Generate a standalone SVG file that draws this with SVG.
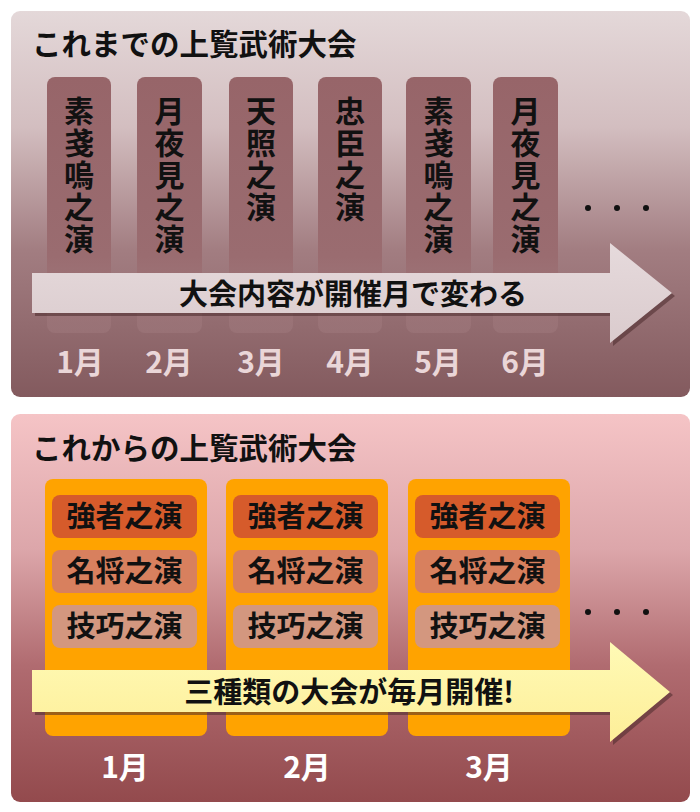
<svg xmlns="http://www.w3.org/2000/svg" width="700" height="812" viewBox="0 0 700 812">
<defs>
<linearGradient id="bgTop" x1="0" y1="0" x2="0" y2="1">
<stop offset="0" stop-color="#e4d8d9"/>
<stop offset="0.3" stop-color="#d3bec0"/>
<stop offset="0.62" stop-color="#a27d81"/>
<stop offset="1" stop-color="#835a5e"/>
</linearGradient>
<linearGradient id="bgBot" x1="0" y1="0" x2="0" y2="1">
<stop offset="0" stop-color="#f5c4c6"/>
<stop offset="0.35" stop-color="#dca6aa"/>
<stop offset="0.65" stop-color="#b06b70"/>
<stop offset="1" stop-color="#934a4d"/>
</linearGradient>
<linearGradient id="colG" x1="0" y1="0" x2="0" y2="1">
<stop offset="0" stop-color="#976569"/>
<stop offset="0.7" stop-color="#9a6c70"/>
<stop offset="1" stop-color="#a07a7e" stop-opacity="0.5"/>
</linearGradient>
<linearGradient id="arrTop" x1="0" y1="0" x2="0" y2="1">
<stop offset="0" stop-color="#e6dadc"/>
<stop offset="1" stop-color="#dacbcd"/>
</linearGradient>
<linearGradient id="arrBot" x1="0" y1="0" x2="0" y2="1">
<stop offset="0" stop-color="#fffab6"/>
<stop offset="1" stop-color="#fdee98"/>
</linearGradient>
</defs>
<style>
text{font-family:"Noto Sans CJK JP","Noto Sans",sans-serif;font-weight:bold}
.title{font-size:29.5px;fill:#111}
.vt{font-size:30px;fill:#111;text-anchor:middle}
.mt{font-size:30px;fill:#ead6d8;text-anchor:middle}
.mb{font-size:30px;fill:#ffffff;text-anchor:middle}
.bt{font-size:29px;fill:#111;text-anchor:middle}
.it{font-size:29px;fill:#111;text-anchor:middle}
.col{fill:url(#colG)}
.oc{fill:#ffa300}
.r1{fill:#d65b2b}
.r2{fill:#d8805e}
.r3{fill:#d3977f}
.shadow{fill:#4a2a2c;opacity:0.55}
.dot{fill:#111}
</style>

<g id="panel-past">
<rect x="11" y="11" width="679" height="386" rx="9" fill="url(#bgTop)"/>
<text class="title" x="32" y="55">これまでの上覧武術大会</text>
</g>

<g id="col-past-1">
<rect class="col" x="47" y="77" width="64" height="256" rx="8"/>
<text class="vt" x="79" y="122">素</text><text class="vt" x="79" y="154">戔</text><text class="vt" x="79" y="186">嗚</text><text class="vt" x="79" y="218">之</text><text class="vt" x="79" y="250">演</text>
</g>
<g id="col-past-2">
<rect class="col" x="137" y="77" width="65" height="256" rx="8"/>
<text class="vt" x="169.5" y="122">月</text><text class="vt" x="169.5" y="154">夜</text><text class="vt" x="169.5" y="186">見</text><text class="vt" x="169.5" y="218">之</text><text class="vt" x="169.5" y="250">演</text>
</g>
<g id="col-past-3">
<rect class="col" x="229" y="77" width="64" height="256" rx="8"/>
<text class="vt" x="261" y="122">天</text><text class="vt" x="261" y="154">照</text><text class="vt" x="261" y="186">之</text><text class="vt" x="261" y="218">演</text>
</g>
<g id="col-past-4">
<rect class="col" x="318" y="77" width="64" height="256" rx="8"/>
<text class="vt" x="350" y="122">忠</text><text class="vt" x="350" y="154">臣</text><text class="vt" x="350" y="186">之</text><text class="vt" x="350" y="218">演</text>
</g>
<g id="col-past-5">
<rect class="col" x="406" y="77" width="65" height="256" rx="8"/>
<text class="vt" x="438.5" y="122">素</text><text class="vt" x="438.5" y="154">戔</text><text class="vt" x="438.5" y="186">嗚</text><text class="vt" x="438.5" y="218">之</text><text class="vt" x="438.5" y="250">演</text>
</g>
<g id="col-past-6">
<rect class="col" x="493" y="77" width="65" height="256" rx="8"/>
<text class="vt" x="525.5" y="122">月</text><text class="vt" x="525.5" y="154">夜</text><text class="vt" x="525.5" y="186">見</text><text class="vt" x="525.5" y="218">之</text><text class="vt" x="525.5" y="250">演</text>
</g>

<g id="dots-past">
<circle class="dot" cx="588" cy="208" r="3"/><circle class="dot" cx="617" cy="208" r="3"/><circle class="dot" cx="646" cy="208" r="3"/>
</g>

<g id="arrow-past">
<polygon class="shadow" points="35,276 613,276 613,246 675,296 613,346 613,316 35,316"/>
<polygon fill="url(#arrTop)" points="32,273 610,273 610,243 672,293 610,343 610,313 32,313"/>
<text class="bt" x="353" y="305">大会内容が開催月で変わる</text>
</g>

<g id="months-past">
<text class="mt" x="80" y="373">1月</text>
<text class="mt" x="169" y="373">2月</text>
<text class="mt" x="261" y="373">3月</text>
<text class="mt" x="350" y="373">4月</text>
<text class="mt" x="438" y="373">5月</text>
<text class="mt" x="525" y="373">6月</text>
</g>

<g id="panel-future">
<rect x="11" y="414" width="679" height="388" rx="9" fill="url(#bgBot)"/>
<text class="title" x="32" y="459">これからの上覧武術大会</text>
</g>

<g id="col-future-1">
<rect class="oc" x="45" y="479" width="162" height="257" rx="8"/>
<rect class="r1" x="52" y="495" width="145" height="43" rx="8"/>
<rect class="r2" x="52" y="550" width="145" height="43" rx="8"/>
<rect class="r3" x="52" y="605" width="145" height="43" rx="8"/>
<text class="it" x="124.5" y="527">強者之演</text>
<text class="it" x="124.5" y="582">名将之演</text>
<text class="it" x="124.5" y="637">技巧之演</text>
</g>
<g id="col-future-2">
<rect class="oc" x="226" y="479" width="162" height="257" rx="8"/>
<rect class="r1" x="233" y="495" width="145" height="43" rx="8"/>
<rect class="r2" x="233" y="550" width="145" height="43" rx="8"/>
<rect class="r3" x="233" y="605" width="145" height="43" rx="8"/>
<text class="it" x="305.5" y="527">強者之演</text>
<text class="it" x="305.5" y="582">名将之演</text>
<text class="it" x="305.5" y="637">技巧之演</text>
</g>
<g id="col-future-3">
<rect class="oc" x="408" y="479" width="162" height="257" rx="8"/>
<rect class="r1" x="415" y="495" width="145" height="43" rx="8"/>
<rect class="r2" x="415" y="550" width="145" height="43" rx="8"/>
<rect class="r3" x="415" y="605" width="145" height="43" rx="8"/>
<text class="it" x="487.5" y="527">強者之演</text>
<text class="it" x="487.5" y="582">名将之演</text>
<text class="it" x="487.5" y="637">技巧之演</text>
</g>

<g id="dots-future">
<circle class="dot" cx="588" cy="612" r="3"/><circle class="dot" cx="617" cy="612" r="3"/><circle class="dot" cx="646" cy="612" r="3"/>
</g>

<g id="arrow-future">
<polygon class="shadow" points="35,673 613,673 613,645 673,695 613,745 613,715 35,715"/>
<polygon fill="url(#arrBot)" points="32,670 610,670 610,642 670,692 610,742 610,712 32,712"/>
<text class="bt" x="349" y="703">三種類の大会が毎月開催!</text>
</g>

<g id="months-future">
<text class="mb" x="125" y="778">1月</text>
<text class="mb" x="307" y="778">2月</text>
<text class="mb" x="489" y="778">3月</text>
</g>
</svg>
